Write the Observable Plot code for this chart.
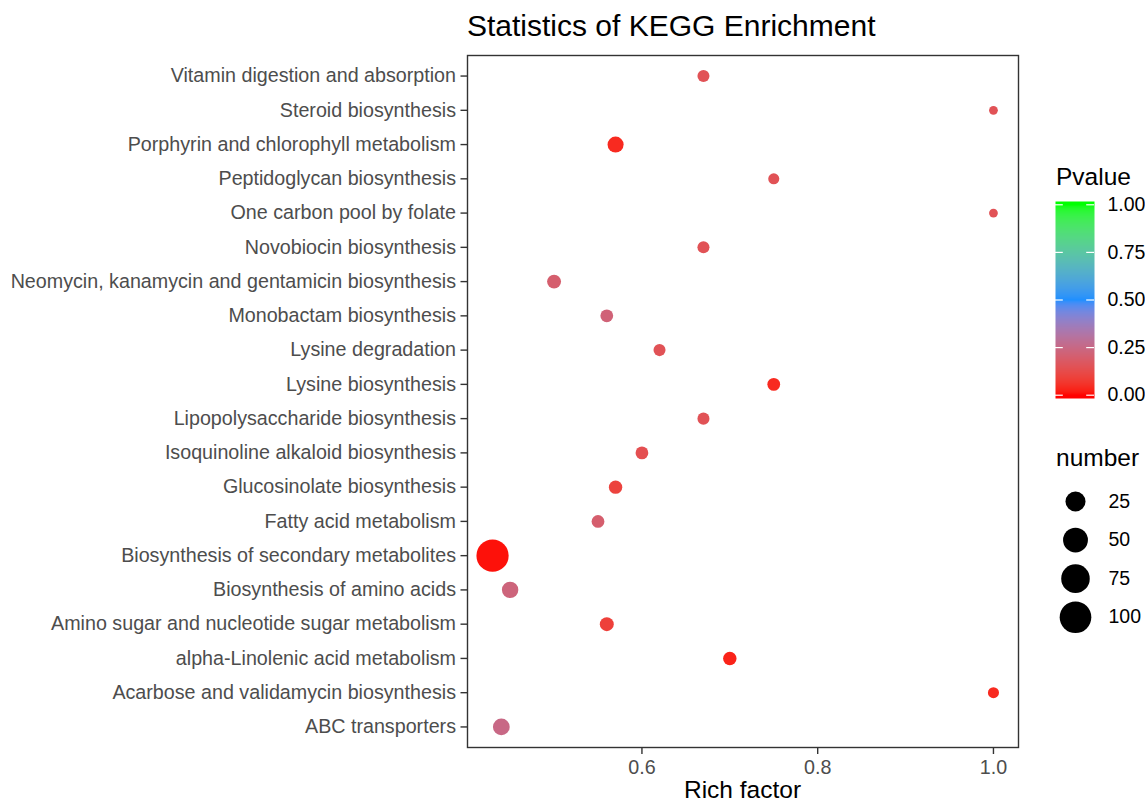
<!DOCTYPE html>
<html>
<head>
<meta charset="utf-8">
<script src="https://cdn.jsdelivr.net/npm/d3@7"></script>
<script src="https://cdn.jsdelivr.net/npm/@observablehq/plot@0.6"></script>
<style>
  body { margin: 0; background: #fff; }
  #chart { position: relative; width: 1145px; height: 803px; font-family: "Liberation Sans", Arial, sans-serif; overflow: hidden; }
  #chart svg { position: absolute; }
  .lbl { position: absolute; line-height: 1; white-space: nowrap; color: #000; }
</style>
</head>
<body>
<div id="chart"></div>
<script>
// KEGG pathways, listed top to bottom
const pathways = [
  "Vitamin digestion and absorption",
  "Steroid biosynthesis",
  "Porphyrin and chlorophyll metabolism",
  "Peptidoglycan biosynthesis",
  "One carbon pool by folate",
  "Novobiocin biosynthesis",
  "Neomycin, kanamycin and gentamicin biosynthesis",
  "Monobactam biosynthesis",
  "Lysine degradation",
  "Lysine biosynthesis",
  "Lipopolysaccharide biosynthesis",
  "Isoquinoline alkaloid biosynthesis",
  "Glucosinolate biosynthesis",
  "Fatty acid metabolism",
  "Biosynthesis of secondary metabolites",
  "Biosynthesis of amino acids",
  "Amino sugar and nucleotide sugar metabolism",
  "alpha-Linolenic acid metabolism",
  "Acarbose and validamycin biosynthesis",
  "ABC transporters"
];
const richFactor = [0.67, 1.0, 0.57, 0.75, 1.0, 0.67, 0.50, 0.56, 0.62, 0.75,
                    0.67, 0.60, 0.57, 0.55, 0.43, 0.45, 0.56, 0.70, 1.0, 0.44];
const geneNumber = [3, 1, 11, 2, 1, 3, 6, 4, 3, 4,
                    3, 4, 5, 4, 105, 12, 6, 5, 2, 13];
const pValue = [0.15, 0.15, 0.04, 0.15, 0.15, 0.15, 0.20, 0.22, 0.15, 0.04,
                0.15, 0.14, 0.10, 0.20, 0.01, 0.23, 0.09, 0.03, 0.04, 0.25];

const xTicks = [0.6, 0.8, 1.0];
const pTicks = [0, 0.25, 0.5, 0.75, 1];
const sizeBreaks = [25, 50, 75, 100];

const rows = pathways.map((name, i) => ({
  pathway: name, rich: richFactor[i], number: geneNumber[i], p: pValue[i]
}));

const font = '"Liberation Sans", Arial, sans-serif';
const chart = document.getElementById("chart");

// point area grows with the square root of the gene count above the minimum
const nMin = d3.min(geneNumber), nMax = d3.max(geneNumber);
const sizeOf = n => Math.sqrt(n - nMin);
const rScale = {type: "linear", domain: [0, Math.sqrt(nMax - nMin)], range: [4.4, 16.1]};

// p-value colours: red -> blue -> green, interpolated in Lab
const colorScale = {
  type: "linear", domain: [0, 0.5, 1],
  range: ["#ff0000", "#1e90ff", "#00ff00"], interpolate: "lab", clamp: true
};

const xMin = d3.min(richFactor), xMax = d3.max(richFactor);
const xPad = (xMax - xMin) * 0.05;

const main = Plot.plot({
  width: 1030, height: 803,
  marginTop: 55, marginBottom: 56, marginLeft: 467, marginRight: 12,
  style: {fontFamily: font, background: "transparent", overflow: "visible"},
  x: {domain: [xMin - xPad, xMax + xPad]},
  y: {type: "point", domain: pathways, padding: 0.6, round: false},
  r: rScale,
  color: colorScale,
  marks: [
    Plot.axisY({tickSize: 6.5, tickPadding: 5, fontSize: 19.7, label: null,
                stroke: "#333", strokeWidth: 1.4, fill: "#4d4d4d"}),
    Plot.axisX({ticks: xTicks, tickFormat: d3.format(".1f"), tickSize: 7, tickPadding: 5.5,
                fontSize: 19.7, label: null, stroke: "#333", strokeWidth: 1.4, fill: "#4d4d4d"}),
    Plot.dot(rows, {x: "rich", y: "pathway", r: d => sizeOf(d.number), fill: "p", stroke: null}),
    Plot.frame({stroke: "#333", strokeWidth: 1.4})
  ]
});
main.style.left = "0px";
main.style.top = "0px";
chart.appendChild(main);

// colour bar legend
const barBottom = -0.0173, barTop = 1.0173;
const colorLegend = Plot.plot({
  width: 105, height: 220,
  marginTop: 10, marginBottom: 13, marginLeft: 15, marginRight: 51,
  style: {fontFamily: font, background: "transparent", overflow: "visible"},
  x: {domain: [0, 1], axis: null},
  y: {domain: [barBottom, barTop], axis: null},
  color: colorScale,
  marks: [
    Plot.raster({x1: 0, x2: 1, y1: barBottom, y2: barTop, width: 2, height: 197,
                 fill: (x, y) => Math.max(0, Math.min(1, y))}),
    Plot.ruleY(pTicks, {x1: 0, x2: 0.2, stroke: "white", strokeWidth: 1.2}),
    Plot.ruleY(pTicks, {x1: 0.8, x2: 1, stroke: "white", strokeWidth: 1.2}),
    Plot.axisY(pTicks, {anchor: "right", tickSize: 0, tickPadding: 13,
                        tickFormat: d3.format(".2f"), fontSize: 19.5, fill: "#000", label: null})
  ]
});
colorLegend.style.left = "1040px";
colorLegend.style.top = "191px";
chart.appendChild(colorLegend);

// size legend
const sizeLegend = Plot.plot({
  width: 105, height: 160, margin: 0,
  style: {fontFamily: font, background: "transparent", overflow: "visible"},
  x: {domain: [0, 105], axis: null},
  y: {type: "point", domain: sizeBreaks, range: [21, 136.7], padding: 0, round: false, axis: null},
  r: rScale,
  marks: [
    Plot.dot(sizeBreaks, {x: 35, y: d => d, r: d => sizeOf(d), fill: "black", stroke: null}),
    Plot.text(sizeBreaks, {x: 68, y: d => d, text: d => String(d), textAnchor: "start",
                           fontSize: 19.5, fill: "#000"})
  ]
});
sizeLegend.style.left = "1040px";
sizeLegend.style.top = "480px";
chart.appendChild(sizeLegend);

// titles
function label(text, css) {
  const el = document.createElement("div");
  el.className = "lbl";
  el.textContent = text;
  Object.assign(el.style, css);
  chart.appendChild(el);
}
label("Statistics of KEGG Enrichment", {left: "467px", top: "10.5px", fontSize: "30px"});
label("Rich factor", {left: "467px", width: "551px", textAlign: "center", top: "778px", fontSize: "24.5px"});
label("Pvalue", {left: "1056px", top: "165px", fontSize: "24.5px"});
label("number", {left: "1056px", top: "446px", fontSize: "24.5px"});
</script>
</body>
</html>
